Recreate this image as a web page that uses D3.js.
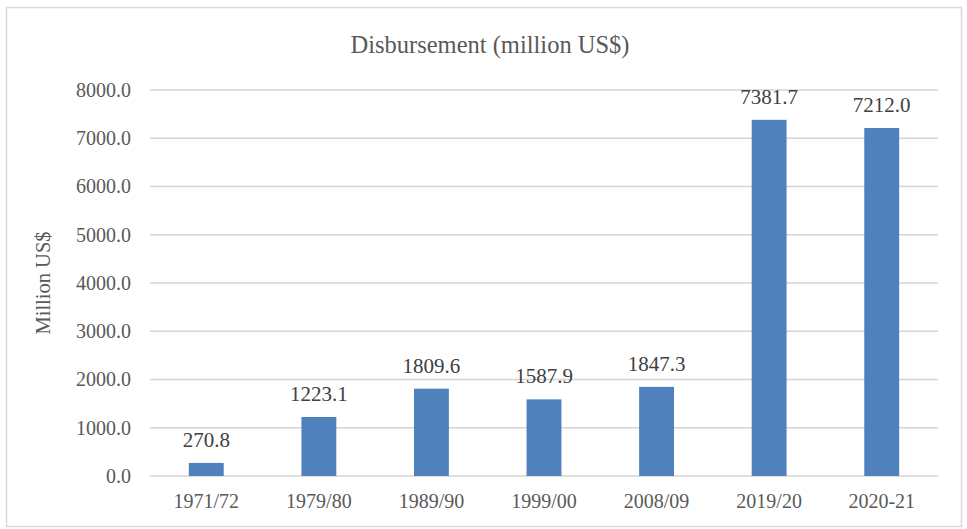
<!DOCTYPE html>
<html>
<head>
<meta charset="utf-8">
<style>
  body { margin: 0; background: #fff; }
  svg { display: block; }
  text { font-family: "Liberation Serif", "Times New Roman", serif; }
</style>
</head>
<body>
<script src="https://d3js.org/d3.v7.min.js"></script>
<script>

var width = 967,
    height = 529;

var margin = {"top": 90, "right": 29, "bottom": 53, "left": 150};

// data
var periods = ["1971/72", "1979/80", "1989/90", "1999/00", "2008/09", "2019/20", "2020-21"];
var disbursement = [270.8, 1223.1, 1809.6, 1587.9, 1847.3, 7381.7, 7212.0];
var yTicks = [0, 1000, 2000, 3000, 4000, 5000, 6000, 7000, 8000];

var svg = d3.select("body").append("svg")
    .attr("width", width)
    .attr("height", height);

// chart border
svg.append("rect")
    .attr("x", 6.5)
    .attr("y", 7.5)
    .attr("width", 955)
    .attr("height", 519)
    .attr("fill", "#fff")
    .attr("stroke", "#d9d9d9")
    .attr("stroke-width", 1.5);

var x = d3.scaleBand()
    .domain(periods)
    .range([margin.left, width - margin.right])
    .paddingInner(0.69)
    .paddingOuter(0.345);

var y = d3.scaleLinear()
    .domain([0, 8000])
    .range([height - margin.bottom, margin.top]);

// gridlines
svg.append("g")
    .selectAll("line")
    .data(yTicks)
    .enter().append("line")
    .attr("x1", margin.left)
    .attr("x2", width - margin.right)
    .attr("y1", function(d) { return y(d); })
    .attr("y2", function(d) { return y(d); })
    .attr("stroke", "#d4d4d4")
    .attr("stroke-width", 1.6);

// y axis labels
var yAxis = svg.append("g")
    .attr("transform", "translate(" + (margin.left - 19) + ",0)")
    .call(d3.axisLeft(y).tickValues(yTicks).tickSize(0).tickPadding(0)
      .tickFormat(function(d) { return d3.format(".1f")(d); }));
yAxis.select(".domain").remove();
yAxis.selectAll("text")
    .attr("font-family", "Liberation Serif, Times New Roman, serif")
    .attr("font-size", "20px")
    .attr("fill", "#595959")
    .attr("dy", "0.32em");

// x axis labels
var xAxis = svg.append("g")
    .attr("transform", "translate(0," + y(0) + ")")
    .call(d3.axisBottom(x).tickSize(0).tickPadding(0));
xAxis.select(".domain").remove();
xAxis.selectAll("text")
    .attr("font-family", "Liberation Serif, Times New Roman, serif")
    .attr("font-size", "20px")
    .attr("fill", "#595959")
    .attr("dy", null)
    .attr("y", 32);

// bars
svg.append("g")
    .selectAll("rect")
    .data(disbursement)
    .enter().append("rect")
    .attr("x", function(d, i) { return x(periods[i]); })
    .attr("y", function(d) { return y(d); })
    .attr("width", x.bandwidth())
    .attr("height", function(d) { return y(0) - y(d); })
    .attr("fill", "#4f81bd");

// value labels
svg.append("g")
    .selectAll("text")
    .data(disbursement)
    .enter().append("text")
    .attr("x", function(d, i) { return x(periods[i]) + x.bandwidth() / 2; })
    .attr("y", function(d) { return y(d) - 16; })
    .attr("text-anchor", "middle")
    .attr("font-size", "21px")
    .attr("fill", "#404040")
    .text(function(d) { return d3.format(".1f")(d); });

// title
svg.append("text")
    .attr("x", 490)
    .attr("y", 53)
    .attr("text-anchor", "middle")
    .attr("font-size", "24.5px")
    .attr("fill", "#595959")
    .text("Disbursement (million US$)");

// y axis title
svg.append("text")
    .attr("transform", "translate(50," + 283 + ") rotate(-90)")
    .attr("text-anchor", "middle")
    .attr("font-size", "20.5px")
    .attr("fill", "#595959")
    .text("Million US$");

</script>
</body>
</html>
